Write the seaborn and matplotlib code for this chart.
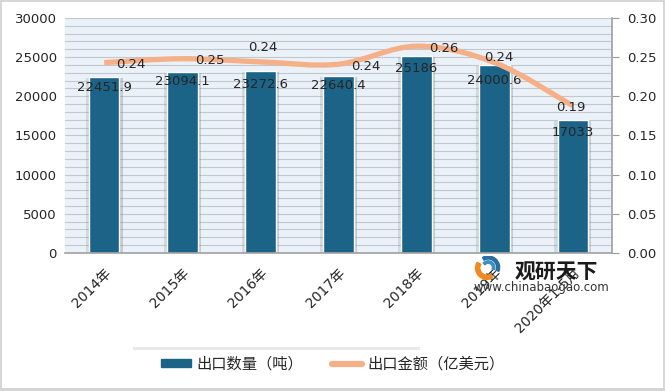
import numpy as np
import matplotlib
matplotlib.use("Agg")
import matplotlib.pyplot as plt
import matplotlib.patheffects as pe
from matplotlib.path import Path
from matplotlib.patches import PathPatch, Patch, Rectangle, Wedge
from matplotlib.lines import Line2D
from matplotlib.ticker import MultipleLocator, FormatStrFormatter
import seaborn as sns

# data
years = ["2014年", "2015年", "2016年", "2017年", "2018年", "2019年", "2020年1-5月"]
qty = [22451.9, 23094.1, 23272.6, 22640.4, 25186, 24000.6, 17033]
value = [0.243, 0.248, 0.244, 0.241, 0.264, 0.243, 0.188]

bar_color = "#1b6387"
line_color = "#f5b088"
txt = "#262626"

sns.set_style("white")
plt.rcParams["font.family"] = ["DejaVu Sans", "Noto Sans CJK SC"]

fig = plt.figure(figsize=(6.65, 3.91), dpi=100)
ax = fig.add_axes([0.098, 0.353, 0.822, 0.601])
ax.set_facecolor("#eaf1f8")

# bars
sns.barplot(x=years, y=qty, color=bar_color, width=0.39, ax=ax, saturation=1)
for p in ax.patches:
    p.set_edgecolor("white")
    p.set_linewidth(1.0)
    p.set_path_effects([pe.SimplePatchShadow(offset=(2.5, -1), shadow_rgbFace="#70767c", alpha=0.3),
                        pe.SimplePatchShadow(offset=(-2.5, -1), shadow_rgbFace="#70767c", alpha=0.2),
                        pe.Normal()])

ax.set_xlim(-0.5, 6.5)
ax.set_ylim(0, 30000)
ax.yaxis.set_major_locator(MultipleLocator(5000))
ax.yaxis.set_minor_locator(MultipleLocator(1000))
ax.grid(which="both", axis="y", color="#c3c8cd", linewidth=0.8)
ax.set_axisbelow(True)
ax.tick_params(axis="y", which="both", length=0, labelsize=9.5, colors=txt, pad=6)
ax.tick_params(axis="x", length=0, labelsize=10, colors=txt, pad=9)
for lab in ax.get_xticklabels():
    lab.set_rotation(45)
    lab.set_ha("right")
    lab.set_rotation_mode("anchor")
for s in ["left", "top", "right"]:
    ax.spines[s].set_visible(False)
ax.spines["bottom"].set_color("#a0a0a0")
ax.spines["bottom"].set_linewidth(1.2)
ax.set_xlabel("")
ax.set_ylabel("")

bar_off = [-7.5, -7, -10, -7, -9.5, -11.5, -9.5]
for i, v in enumerate(qty):
    ax.annotate(f"{v:g}", (i, v), xytext=(0, bar_off[i]), textcoords="offset points",
                ha="center", va="center", fontsize=9.5, color=txt)

# secondary axis with smoothed line
ax2 = ax.twinx()
ax2.set_ylim(0, 0.30)
ax2.yaxis.set_major_locator(MultipleLocator(0.05))
ax2.yaxis.set_major_formatter(FormatStrFormatter("%.2f"))
ax2.tick_params(axis="y", length=5, color="#999999", labelsize=9.5, labelcolor=txt, pad=6)
for s in ["left", "top", "bottom"]:
    ax2.spines[s].set_visible(False)
ax2.spines["right"].set_color("#a0a0a0")
ax2.spines["right"].set_linewidth(1.2)

pts = np.column_stack([np.arange(len(value)), value])
verts = [pts[0]]
codes = [Path.MOVETO]
n = len(pts)
for i in range(n - 1):
    p0 = pts[i - 1] if i > 0 else pts[i]
    p1 = pts[i]
    p2 = pts[i + 1]
    p3 = pts[i + 2] if i + 2 < n else pts[i + 1]
    verts += [p1 + (p2 - p0) / 6, p2 - (p3 - p1) / 6, p2]
    codes += [Path.CURVE4] * 3
ax2.add_patch(PathPatch(Path(verts, codes), facecolor="none", edgecolor=line_color,
                        linewidth=3.8, capstyle="butt"))

lbl_off = [(19.5, -1.5), (20, -1), (2, 10), (19.5, -1.5), (19.5, -1.5), (3, 3.5), (-1.5, -1)]
for i, v in enumerate(value):
    ax2.annotate(f"{v:.2f}", (i, v), xytext=lbl_off[i], textcoords="offset points",
                 ha="center", va="center", fontsize=9.5, color=txt)

# watermark
logo = fig.add_axes([470 / 665, 1 - 280 / 391, 34 / 665, 24 / 391])
logo.set_xlim(-1.4, 1.4)
logo.set_ylim(-1, 1)
logo.set_aspect("equal")
logo.axis("off")
logo.add_patch(Wedge((0, 0), 0.95, 150, 300, width=0.35, color="#f0891e"))
logo.add_patch(Wedge((0.1, 0.05), 0.95, -20, 120, width=0.25, color="#2a6f9e"))
logo.add_patch(Wedge((0.1, 0.05), 0.55, -20, 140, width=0.2, color="#3d8fc4"))
fig.text(515 / 665, 1 - 272 / 391, "观研天下", fontsize=15, fontweight="bold", color="#1a1a1a",
         va="center", ha="left", family=["Noto Sans CJK SC"])
fig.text(474 / 665, 1 - 288 / 391, "www.chinabaogao.com", fontsize=8.5, color="#333333",
         va="center", ha="left")

# legend box with soft shadow on top
box = Rectangle((133 / 665, 1 - 377 / 391), 287 / 665, 27 / 391, transform=fig.transFigure,
                facecolor="white", edgecolor="none")
box.set_path_effects([pe.SimplePatchShadow(offset=(0, 2.5), shadow_rgbFace="#c0c0c0", alpha=0.35),
                      pe.Normal()])
fig.patches.append(box)

handles = [Patch(facecolor=bar_color, edgecolor=bar_color),
           Line2D([0], [0], color=line_color, linewidth=4.5)]
leg = fig.legend(handles, ["出口数量（吨）", "出口金额（亿美元）"], loc="center",
                 bbox_to_anchor=(0.5, 0.069), ncol=2, frameon=False, fontsize=11,
                 handlelength=2.0, handleheight=0.45, columnspacing=1.9, handletextpad=0.3)
for t in leg.get_texts():
    t.set_color(txt)
    t.set_family(["Noto Sans CJK SC"])

# outer border
fig.patches.append(Rectangle((0.001, 0.003), 0.998, 0.995, transform=fig.transFigure,
                             facecolor="none", edgecolor="#cfcfcf", linewidth=1.2))
fig.patches.append(Rectangle((0, 0), 1, 3.5 / 391, transform=fig.transFigure,
                             facecolor="#d4d4d4", edgecolor="none"))

fig.savefig("out.png", dpi=100)
